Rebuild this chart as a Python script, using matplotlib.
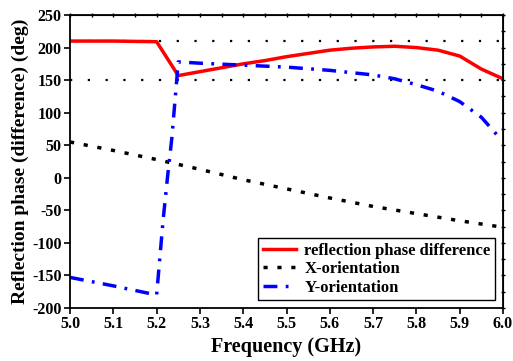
import matplotlib.pyplot as plt
from matplotlib.ticker import MultipleLocator, NullFormatter

# Reflection phase difference (red)
f_diff = [5.0, 5.1, 5.2, 5.25, 5.3, 5.35, 5.4, 5.45, 5.5, 5.55, 5.6, 5.65,
          5.7, 5.75, 5.8, 5.85, 5.9, 5.95, 6.0]
phase_diff = [210, 210, 209, 157, 163, 169, 175, 180, 186, 191, 196, 199,
              201, 202, 200, 196, 187, 167, 152]

# X-orientation (black dotted)
f_x = [5.0, 5.1, 5.2, 5.3, 5.4, 5.5, 5.6, 5.7, 5.8, 5.9, 6.0]
phase_x = [55, 42, 28, 13, -3, -17, -31, -44, -55, -66, -76]

# Y-orientation (blue dash-dot)
f_y = [5.0, 5.1, 5.2, 5.215, 5.225, 5.235, 5.25, 5.3, 5.4, 5.5, 5.6, 5.7,
       5.75, 5.8, 5.85, 5.9, 5.95, 5.99]
phase_y = [-153, -166, -180, -65, 0, 60, 178, 176, 173, 170, 165, 158,
           152, 143, 133, 117, 93, 63]

ref_levels = [210, 150]

plt.rcParams['font.family'] = ['Liberation Serif', 'DejaVu Serif']
plt.rcParams['font.weight'] = 'bold'
plt.rcParams['axes.unicode_minus'] = False

fig = plt.figure(figsize=(5.13, 3.61), dpi=100)
ax = fig.add_axes([0.1365, 0.1468, 0.844, 0.8116])

for lvl in ref_levels:
    ax.axhline(lvl, color='black', lw=1.6, linestyle=(0, (1, 7)))

ax.plot(f_diff, phase_diff, color='red', lw=2.5, label='reflection phase difference')
ax.plot(f_x, phase_x, color='black', lw=2.5, linestyle=(0, (1.2, 2.8)), label='X-orientation')
ax.plot(f_y, phase_y, color='blue', lw=2.5, linestyle=(0, (4.0, 2.4, 0.8, 2.4)), label='Y-orientation')

ax.set_xlim(5.0, 6.0)
ax.set_ylim(-200, 250)
ax.xaxis.set_major_locator(MultipleLocator(0.1))
ax.yaxis.set_major_locator(MultipleLocator(50))
ax.tick_params(which='major', direction='out', length=4, width=1.2,
               labelsize=11.5, pad=2)
for s in ax.spines.values():
    s.set_linewidth(1.3)

# small unlabelled ticks on the top and right frame
top = ax.secondary_xaxis('top')
top.xaxis.set_major_locator(MultipleLocator(0.05))
top.xaxis.set_major_formatter(NullFormatter())
top.tick_params(direction='inout', length=3, width=1.0)
right = ax.secondary_yaxis('right')
right.yaxis.set_major_locator(MultipleLocator(25))
right.yaxis.set_major_formatter(NullFormatter())
right.tick_params(direction='inout', length=3, width=1.0)

ax.set_xlabel('Frequency (GHz)', fontsize=14.5, fontweight='bold', labelpad=3)
ax.set_ylabel('Reflection phase (difference) (deg)', fontsize=14, fontweight='bold', labelpad=2)

leg = ax.legend(loc='lower right', fontsize=12, frameon=True, fancybox=False,
                edgecolor='black', framealpha=1, borderpad=0.25, labelspacing=0.15,
                handlelength=2.0, handletextpad=0.5, borderaxespad=0.5)
leg.get_frame().set_linewidth(1.0)

fig.savefig('out.png', dpi=100)
